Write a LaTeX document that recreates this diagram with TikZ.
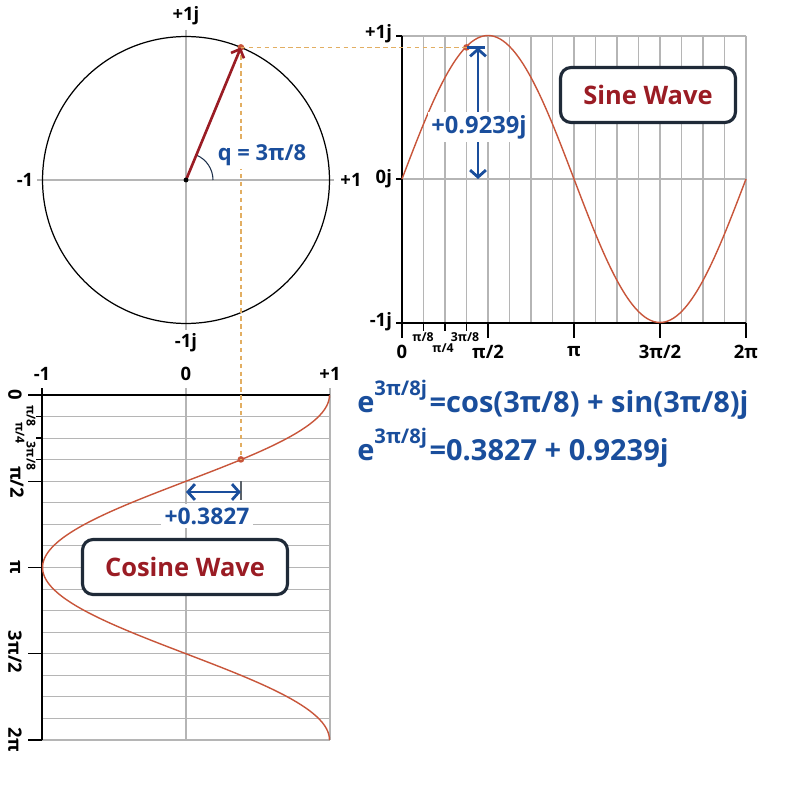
\documentclass[tikz,border=0pt]{standalone}
\usepackage{fontspec}
\setmainfont{Open Sans}
\usetikzlibrary{arrows.meta}
\definecolor{wave}{HTML}{C8553A}
\definecolor{guide}{HTML}{E2AE62}
\definecolor{phasor}{HTML}{9A1C24}
\definecolor{note}{HTML}{1A4E9C}
\definecolor{frame}{HTML}{1F2A38}
\definecolor{grid}{HTML}{B5B5B5}
\tikzset{
    axis-label/.style = {font=\bfseries\fontsize{10.5}{12}\selectfont, inner sep=1pt},
    tick-label/.style = {font=\bfseries\fontsize{7}{8}\selectfont, inner sep=0.5pt},
    note-label/.style = {text=note, fill=white, font=\bfseries\fontsize{13.5}{15}\selectfont, inner sep=2pt},
    eq-label/.style = {text=note, font=\bfseries\fontsize{16.5}{19}\selectfont, inner sep=0pt, anchor=west},
    wave-box/.style = {draw=frame, line width=1.8pt, fill=white, rounded corners=6pt, text=phasor, font=\bfseries\fontsize{14.5}{16}\selectfont, minimum height=1.1cm},
    grid-line/.style = {draw=grid, line width=0.6pt},
    axis-line/.style = {draw=black, line width=0.8pt},
    wave-line/.style = {draw=wave, line width=0.8pt},
    guide-line/.style = {draw=guide, line width=1pt, dash pattern=on 2.5pt off 2pt},
    wave-dot/.style = {circle, fill=wave, inner sep=0pt, minimum size=3.8pt},
    note-arrow/.style = {draw=note, line width=1.6pt, {Straight Barb[length=4pt,width=9pt]}-{Straight Barb[length=4pt,width=9pt]}},
}
\newcommand{\phaseexp}{e\raisebox{1.05ex}{\fontsize{11.5}{12}\selectfont 3π/8j}\kern1.5pt}
\begin{document}
\begin{tikzpicture}[x=0.02cm, y=-0.02cm]
\useasboundingbox[fill=white] (0,0) rectangle (800,800);

% phasor circle
\coordinate (o) at (186,180);
\draw[grid-line] (37,180) -- (334,180);
\draw[grid-line] (186,30) -- (186,330);
\draw[black, line width=0.7pt] (o) circle[radius=2.87cm];
\node[axis-label] (c-up) at (186,16) {+1j};
\node[axis-label] (c-down) at (186,343) {-1j};
\node[axis-label] (c-left) at (25,180) {-1};
\node[axis-label] (c-right) at (351,180) {+1};
\draw[frame!80!note, line width=0.6pt] ([shift={(0.54cm,0)}]o) arc[start angle=0, end angle=67.5, radius=0.54cm];
\node[wave-dot] (p) at (240.9,47.4) {};

% sine wave
\foreach \k in {1,...,16}
    \draw[grid-line] (402+\k*21.5,36) -- (402+\k*21.5,323);
\draw[grid-line] (402,36) -- (746,36);
\draw[grid-line] (402,179) -- (746,179);
\draw[axis-line] (402,36) -- (402,338);
\draw[axis-line] (402,323) -- (746,323);
\foreach \k in {1,2,3}
    \draw[axis-line] (402+\k*21.5,323) -- (402+\k*21.5,331);
\foreach \k in {4,8,12,16}
    \draw[axis-line] (402+\k*21.5,323) -- (402+\k*21.5,338);
\foreach \y in {36,179,323}
    \draw[axis-line] (396,\y) -- (402,\y);
\draw[wave-line] plot[domain=0:360, samples=120, smooth] ({402+\x/360*344},{179-143.5*sin(\x)});
\node[axis-label, anchor=east] (s-one) at (394,34) {+1j};
\node[axis-label, anchor=east] (s-zero) at (394,179) {0j};
\node[axis-label, anchor=east] (s-minus) at (394,322) {-1j};
\node[axis-label] (s-t0) at (402,352) {0};
\node[tick-label] (s-t1) at (423,337) {π/8};
\node[tick-label] (s-t2) at (443,348) {π/4};
\node[tick-label] (s-t3) at (465,337) {3π/8};
\node[axis-label] (s-t4) at (488,352) {π/2};
\node[axis-label] (s-t8) at (574,352) {π};
\node[axis-label] (s-t12) at (660,352) {3π/2};
\node[axis-label] (s-t16) at (746,352) {2π};
\node[wave-box, minimum width=3.5cm] (sine-box) at (648,95) {Sine Wave};
\node[wave-dot] (ps) at (466.5,47.4) {};

% cosine wave
\foreach \k in {1,...,16}
    \draw[grid-line] (42,395+\k*21.5625) -- (330,395+\k*21.5625);
\draw[grid-line] (186,388) -- (186,740);
\draw[grid-line] (330,388) -- (330,740);
\draw[axis-line] (28,395) -- (330,395);
\draw[axis-line] (42,388) -- (42,740);
\foreach \k in {1,2,3}
    \draw[axis-line] (36,395+\k*21.5625) -- (42,395+\k*21.5625);
\foreach \k in {4,8,12,16}
    \draw[axis-line] (28,395+\k*21.5625) -- (42,395+\k*21.5625);
\draw[wave-line] plot[domain=0:360, samples=120, smooth] ({186+143.5*cos(\x)},{395+\x/360*345});
\node[axis-label] (x-minus) at (42,374) {-1};
\node[axis-label] (x-zero) at (186,374) {0};
\node[axis-label] (x-one) at (330,374) {+1};
\node[axis-label, rotate=-90] (c-t0) at (15,395) {0};
\node[tick-label, rotate=-90] (c-t1) at (31,416) {π/8};
\node[tick-label, rotate=-90] (c-t2) at (20,433) {π/4};
\node[tick-label, rotate=-90] (c-t3) at (31,456) {3π/8};
\node[axis-label, rotate=-90] (c-t4) at (17,482) {π/2};
\node[axis-label, rotate=-90] (c-t8) at (15,567) {π};
\node[axis-label, rotate=-90] (c-t12) at (15,652) {3π/2};
\node[axis-label, rotate=-90] (c-t16) at (15,740) {2π};
\node[wave-box, minimum width=4.1cm] (cosine-box) at (185,567) {Cosine Wave};
\node[wave-dot] (pc) at (240.9,459.4) {};

% projections
\draw[guide-line] (p.center) -- (ps.center);
\draw[guide-line] (p.center) -- (pc.center);
\draw[phasor, line width=1.5pt, -{Straight Barb[length=4pt,width=8pt]}] (o) -- (p.center);
\fill[black] (o) circle[radius=1.4pt];
\node[note-label, font=\bfseries\fontsize{12.5}{14}\selectfont] (angle) at (262,155) {q = 3π/8};

\coordinate (s-bar) at (485,47.4);
\coordinate (s-top) at (478,47.4);
\coordinate (s-base) at (478,179);
\draw[note, line width=1.3pt] (ps.center) -- (s-bar);
\draw[note-arrow] (s-top) -- (s-base);
\node[note-label] (sine-value) at (479,127) {+0.9239j};

\coordinate (c-tick) at (240.9,481);
\coordinate (c-tick-end) at (240.9,500);
\coordinate (c-base) at (186,492);
\coordinate (c-top) at (240.9,492);
\draw[frame!60!grid, line width=1pt] (c-tick) -- (c-tick-end);
\draw[note-arrow] (c-base) -- (c-top);
\node[note-label, font=\bfseries\fontsize{13}{15}\selectfont] (cosine-value) at (207,516) {+0.3827};

% Euler
\node[eq-label] (eq-full) at (357,400) {\phaseexp=cos(3π/8) + sin(3π/8)j};
\node[eq-label] (eq-value) at (357,448) {\phaseexp=0.3827 + 0.9239j};
\end{tikzpicture}
\end{document}
